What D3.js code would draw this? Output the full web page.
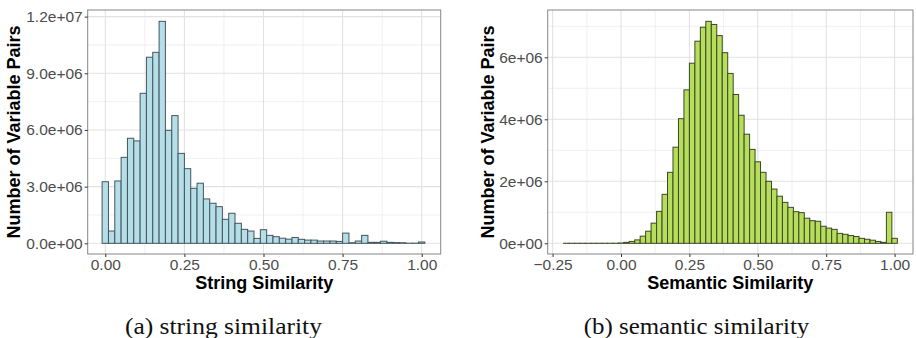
<!DOCTYPE html>
<html>
<head>
<meta charset="utf-8">
<script src="https://cdn.jsdelivr.net/npm/d3@7"></script>
<style>
  html, body { margin: 0; padding: 0; background: #fff; }
  svg { display: block; }
</style>
</head>
<body>
<svg id="fig" width="916" height="338"></svg>
<script>
// ---- String similarity histogram (bin width 0.02) ----
const stringBinCenters = [
  0.00, 0.02, 0.04, 0.06, 0.08, 0.10, 0.12, 0.14, 0.16, 0.18,
  0.20, 0.22, 0.24, 0.26, 0.28, 0.30, 0.32, 0.34, 0.36, 0.38,
  0.40, 0.42, 0.44, 0.46, 0.48, 0.50, 0.52, 0.54, 0.56, 0.58,
  0.60, 0.62, 0.64, 0.66, 0.68, 0.70, 0.72, 0.74, 0.76, 0.78,
  0.80, 0.82, 0.84, 0.86, 0.88, 0.90, 0.92, 0.94, 0.96, 0.98, 1.00
];
const stringCounts = [
  3260000, 650000, 3300000, 4550000, 5560000, 5420000, 7940000, 9850000, 10110000, 11750000,
  5980000, 6760000, 4760000, 3950000, 2910000, 3180000, 2350000, 2120000, 1940000, 1270000,
  1590000, 1060000, 740000, 650000, 260000, 720000, 420000, 350000, 270000, 220000,
  310000, 210000, 170000, 170000, 120000, 120000, 120000, 100000, 540000, 30000,
  120000, 420000, 50000, 50000, 110000, 50000, 40000, 30000, 5000, 8000, 70000
];
const stringXTicks = [0, 0.25, 0.5, 0.75, 1];
const stringXTickLabels = ["0.00", "0.25", "0.50", "0.75", "1.00"];
const stringYTicks = [0, 3e6, 6e6, 9e6, 12e6];
const stringYTickLabels = ["0.0e+00", "3.0e+06", "6.0e+06", "9.0e+06", "1.2e+07"];

// ---- Semantic similarity histogram (bin width 0.02) ----
const semanticBinCenters = [
  -0.20, -0.18, -0.16, -0.14, -0.12, -0.10, -0.08, -0.06, -0.04, -0.02,
  0.00, 0.02, 0.04, 0.06, 0.08, 0.10, 0.12, 0.14, 0.16, 0.18,
  0.20, 0.22, 0.24, 0.26, 0.28, 0.30, 0.32, 0.34, 0.36, 0.38,
  0.40, 0.42, 0.44, 0.46, 0.48, 0.50, 0.52, 0.54, 0.56, 0.58,
  0.60, 0.62, 0.64, 0.66, 0.68, 0.70, 0.72, 0.74, 0.76, 0.78,
  0.80, 0.82, 0.84, 0.86, 0.88, 0.90, 0.92, 0.94, 0.96, 0.98, 1.00
];
const semanticCounts = [
  1000, 1000, 1000, 1000, 1000, 1000, 1000, 1000, 1500, 2000,
  10000, 30000, 60000, 110000, 230000, 390000, 650000, 1030000, 1580000, 2290000,
  3100000, 4020000, 4950000, 5810000, 6520000, 6970000, 7160000, 7060000, 6700000, 6150000,
  5480000, 4800000, 4130000, 3520000, 3030000, 2630000, 2290000, 2000000, 1750000, 1520000,
  1320000, 1160000, 1020000, 990000, 810000, 730000, 710000, 550000, 490000, 450000,
  320000, 290000, 250000, 220000, 160000, 130000, 100000, 60000, 30000, 1000000, 160000
];
const semanticXTicks = [-0.25, 0, 0.25, 0.5, 0.75, 1];
const semanticXTickLabels = ["\u22120.25", "0.00", "0.25", "0.50", "0.75", "1.00"];
const semanticYTicks = [0, 2e6, 4e6, 6e6];
const semanticYTickLabels = ["0e+00", "2e+06", "4e+06", "6e+06"];

const binWidth = 0.02;
const svg = d3.select("#fig");

// Midpoints between consecutive breaks (plus one step beyond each end), kept inside the domain
function minorBreaks(ticks, domain) {
  const step = ticks[1] - ticks[0];
  const ext = [ticks[0] - step, ...ticks, ticks[ticks.length - 1] + step];
  const out = [];
  for (let i = 0; i < ext.length - 1; i++) {
    const m = (ext[i] + ext[i + 1]) / 2;
    if (m >= domain[0] && m <= domain[1]) out.push(m);
  }
  return out;
}

function drawPanel(p) {
  const x = d3.scaleLinear().domain(p.xDomain).range([p.left, p.right]);
  const y = d3.scaleLinear().domain(p.yDomain).range([p.bottom, p.top]);
  const g = svg.append("g");

  // grid
  const grid = g.append("g");
  grid.selectAll(".vminor").data(minorBreaks(p.xTicks, p.xDomain)).join("line")
    .attr("x1", d => x(d)).attr("x2", d => x(d))
    .attr("y1", p.top).attr("y2", p.bottom)
    .attr("stroke", "#ececec").attr("stroke-width", 0.8);
  grid.selectAll(".hminor").data(minorBreaks(p.yTicks, p.yDomain)).join("line")
    .attr("y1", d => y(d)).attr("y2", d => y(d))
    .attr("x1", p.left).attr("x2", p.right)
    .attr("stroke", "#ececec").attr("stroke-width", 0.8);
  grid.selectAll(".vmajor").data(p.xTicks).join("line")
    .attr("x1", d => x(d)).attr("x2", d => x(d))
    .attr("y1", p.top).attr("y2", p.bottom)
    .attr("stroke", "#e2e2e2").attr("stroke-width", 1.1);
  grid.selectAll(".hmajor").data(p.yTicks).join("line")
    .attr("y1", d => y(d)).attr("y2", d => y(d))
    .attr("x1", p.left).attr("x2", p.right)
    .attr("stroke", "#e2e2e2").attr("stroke-width", 1.1);

  // bars
  const bins = p.centers.map((c, i) => ({ c, n: p.counts[i] }));
  g.append("g").selectAll("rect").data(bins).join("rect")
    .attr("x", d => x(d.c - binWidth / 2))
    .attr("width", d => x(d.c + binWidth / 2) - x(d.c - binWidth / 2))
    .attr("y", d => y(d.n))
    .attr("height", d => Math.max(0.05, y(0) - y(d.n)))
    .attr("fill", p.fill)
    .attr("stroke", p.stroke)
    .attr("stroke-width", 1);

  // panel border
  g.append("rect")
    .attr("x", p.left).attr("y", p.top)
    .attr("width", p.right - p.left).attr("height", p.bottom - p.top)
    .attr("fill", "none").attr("stroke", "#858585").attr("stroke-width", 1);

  // axes
  const xAxis = d3.axisBottom(x).tickValues(p.xTicks)
    .tickFormat((d, i) => p.xTickLabels[i]).tickSize(3).tickPadding(1.5);
  const ax = g.append("g").attr("transform", `translate(0,${p.bottom})`).call(xAxis);
  const yAxis = d3.axisLeft(y).tickValues(p.yTicks)
    .tickFormat((d, i) => p.yTickLabels[i]).tickSize(3).tickPadding(2);
  const ay = g.append("g").attr("transform", `translate(${p.left},0)`).call(yAxis);
  [ax, ay].forEach(a => {
    a.select(".domain").remove();
    a.selectAll(".tick line").attr("stroke", "#333333").attr("stroke-width", 1);
    a.selectAll(".tick text")
      .attr("fill", "#4d4d4d")
      .style("font-family", "'Liberation Sans', Arial, sans-serif")
      .style("font-size", "15.5px");
  });

  // axis titles
  g.append("text")
    .attr("x", (p.left + p.right) / 2).attr("y", 288.5)
    .attr("text-anchor", "middle")
    .style("font-family", "'Liberation Sans', Arial, sans-serif")
    .style("font-size", "18px").style("font-weight", "bold")
    .attr("fill", "#000")
    .text(p.xTitle);
  g.append("text")
    .attr("transform", `translate(${p.yTitleX},${(p.top + p.bottom) / 2}) rotate(-90)`)
    .attr("text-anchor", "middle")
    .style("font-family", "'Liberation Sans', Arial, sans-serif")
    .style("font-size", "18px").style("font-weight", "bold")
    .attr("fill", "#000")
    .text("Number of Variable Pairs");

  // sub-figure caption
  g.append("text")
    .attr("x", p.captionX).attr("y", 333.5)
    .attr("text-anchor", "middle")
    .attr("textLength", p.captionWidth).attr("lengthAdjust", "spacingAndGlyphs")
    .style("font-family", "'Liberation Serif', 'Times New Roman', serif")
    .style("font-size", "23px")
    .attr("fill", "#111")
    .text(p.caption);
}

drawPanel({
  left: 87.7, right: 440.7, top: 10, bottom: 254,
  xDomain: [-0.0556, 1.060], yDomain: [-566000, 12350000],
  centers: stringBinCenters, counts: stringCounts,
  xTicks: stringXTicks, xTickLabels: stringXTickLabels,
  yTicks: stringYTicks, yTickLabels: stringYTickLabels,
  fill: "#b5dee8", stroke: "#44565c",
  xTitle: "String Similarity", yTitleX: 20.3,
  caption: "(a) string similarity", captionX: 223.4, captionWidth: 197
});

drawPanel({
  left: 547.7, right: 913, top: 10, bottom: 254,
  xDomain: [-0.268, 1.0673], yDomain: [-345000, 7526000],
  centers: semanticBinCenters, counts: semanticCounts,
  xTicks: semanticXTicks, xTickLabels: semanticXTickLabels,
  yTicks: semanticYTicks, yTickLabels: semanticYTickLabels,
  fill: "#b6de5b", stroke: "#3b4828",
  xTitle: "Semantic Similarity", yTitleX: 494,
  caption: "(b) semantic similarity", captionX: 696.5, captionWidth: 225.6
});
</script>
</body>
</html>
